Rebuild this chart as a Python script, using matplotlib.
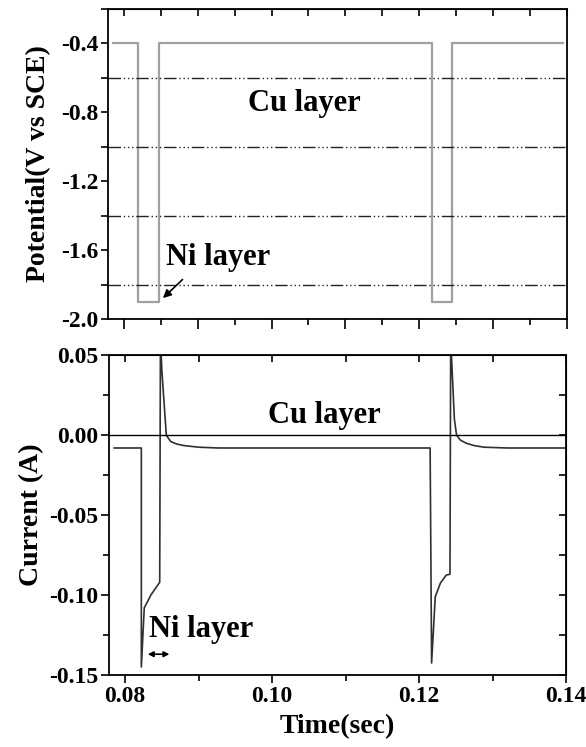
import numpy as np
import matplotlib
matplotlib.use("Agg")
import matplotlib.pyplot as plt
from matplotlib.ticker import MultipleLocator, FormatStrFormatter

plt.rcParams['font.family'] = ['Liberation Serif', 'DejaVu Serif']
plt.rcParams['font.weight'] = 'bold'

# --- pulse potential (V vs SCE) ---
t_pot = [0.0785, 0.0819, 0.0819, 0.0848, 0.0848, 0.1218, 0.1218, 0.1244, 0.1244, 0.1395]
pot = [-0.4, -0.4, -1.9, -1.9, -0.4, -0.4, -1.9, -1.9, -0.4, -0.4]
pot_refs = [-0.6, -1.0, -1.4, -1.8]

# --- current response (A) ---
t_cur = [0.0785, 0.0822, 0.0822, 0.0826, 0.0835, 0.0847, 0.0848, 0.0850,
         0.0853, 0.0856, 0.0862, 0.0870, 0.0880, 0.0900, 0.0927, 0.1000,
         0.1100, 0.1215, 0.1217, 0.1222, 0.1229, 0.1237, 0.1242, 0.1243,
         0.1246, 0.1248, 0.1251, 0.1256, 0.1264, 0.1275, 0.1288, 0.1320,
         0.1401]
cur = [-0.008, -0.008, -0.145, -0.108, -0.100, -0.092, 0.060, 0.040,
       0.020, 0.000, -0.004, -0.0055, -0.0065, -0.0075, -0.008, -0.008,
       -0.008, -0.008, -0.1425, -0.101, -0.0925, -0.0875, -0.087, 0.060,
       0.030, 0.010, 0.000, -0.003, -0.005, -0.0065, -0.0075, -0.008,
       -0.008]

fig = plt.figure(figsize=(5.86, 7.47), dpi=100)
ax1 = fig.add_axes([0.184, 0.573, 0.783, 0.415])
ax2 = fig.add_axes([0.186, 0.0964, 0.780, 0.428])

TICK_FS = 17
LABEL_FS = 20
NOTE_FS = 22

# top panel
ax1.plot(t_pot, pot, color='#a0a0a0', lw=1.6)
for y in pot_refs:
    ax1.axhline(y, color='#222222', lw=1.0,
                linestyle=(0, (9, 2, 1, 2, 1, 2, 1, 2)))
ax1.set_xlim(0.0778, 0.14)
ax1.set_ylim(-2.0, -0.2)
ax1.yaxis.set_major_locator(MultipleLocator(0.4))
ax1.yaxis.set_minor_locator(MultipleLocator(0.2))
ax1.yaxis.set_major_formatter(FormatStrFormatter('%.1f'))
ax1.xaxis.set_major_locator(MultipleLocator(0.01))
ax1.xaxis.set_minor_locator(MultipleLocator(0.005))
ax1.tick_params(axis='x', which='both', labelbottom=False)
ax1.tick_params(axis='x', which='major', direction='out', length=7, width=1.2)
ax1.tick_params(axis='x', which='minor', direction='out', length=4, width=1.2)
ax1.tick_params(axis='y', which='both', direction='out', length=5, width=1.2, pad=2)
ax1.set_ylabel('Potential(V vs SCE)', fontsize=LABEL_FS, fontweight='bold', labelpad=7)
ax1.text(0.1044, -0.748, 'Cu layer', fontsize=NOTE_FS, fontweight='bold',
         ha='center', va='center')
ax1.text(0.0928, -1.645, 'Ni layer', fontsize=NOTE_FS, fontweight='bold',
         ha='center', va='center')
ax1.annotate('', xy=(0.0850, -1.89), xytext=(0.0882, -1.76),
             arrowprops=dict(arrowstyle='-|>', color='black', lw=1.2,
                             mutation_scale=12))

# bottom panel
ax2.plot(t_cur, cur, color='#303030', lw=1.2)
ax2.axhline(0.0, color='black', lw=1.0)
ax2.set_xlim(0.0778, 0.14)
ax2.set_ylim(-0.15, 0.05)
ax2.yaxis.set_major_locator(MultipleLocator(0.05))
ax2.yaxis.set_minor_locator(MultipleLocator(0.025))
ax2.yaxis.set_major_formatter(FormatStrFormatter('%.2f'))
ax2.xaxis.set_major_locator(MultipleLocator(0.02))
ax2.xaxis.set_minor_locator(MultipleLocator(0.01))
ax2.xaxis.set_major_formatter(FormatStrFormatter('%.2f'))
ax2.tick_params(axis='both', which='major', direction='out', length=6, width=1.2, pad=2)
ax2.tick_params(axis='both', which='minor', direction='out', length=4, width=1.2, pad=2)
ax2.set_ylabel('Current (A)', fontsize=LABEL_FS, fontweight='bold', labelpad=3)
ax2.set_xlabel('Time(sec)', fontsize=LABEL_FS, fontweight='bold', labelpad=5)
ax2.text(0.1071, 0.0125, 'Cu layer', fontsize=NOTE_FS, fontweight='bold',
         ha='center', va='center')
ax2.text(0.0904, -0.1215, 'Ni layer', fontsize=NOTE_FS, fontweight='bold',
         ha='center', va='center')
ax2.annotate('', xy=(0.0827, -0.137), xytext=(0.0864, -0.137),
             arrowprops=dict(arrowstyle='<|-|>', color='black', lw=1.2,
                             mutation_scale=8))

# inward ticks on the mirrored sides
for ax in (ax1, ax2):
    sec = ax.secondary_xaxis('top')
    sec.set_xticks(np.arange(0.08, 0.1401, 0.005 if ax is ax1 else 0.01))
    sec.tick_params(direction='in', length=5, width=1.2, labeltop=False)
    for lab in ax.get_xticklabels() + ax.get_yticklabels():
        lab.set_fontweight('bold')
        lab.set_fontsize(TICK_FS)
    for sp in ax.spines.values():
        sp.set_linewidth(1.3)

sec_r = ax2.secondary_yaxis('right')
sec_r.set_yticks(np.arange(-0.15, 0.051, 0.025))
sec_r.tick_params(direction='in', length=5, width=1.2, labelright=False)

fig.savefig('out.png', dpi=100)
